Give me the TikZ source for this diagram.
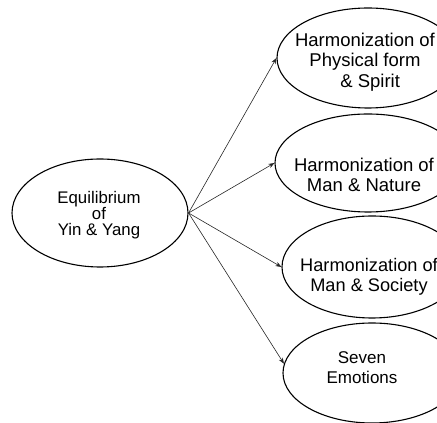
\documentclass[tikz,border=0pt]{standalone}
\usepackage{fontspec}
\setmainfont{Liberation Sans}
\usetikzlibrary{arrows.meta,shapes.geometric}
\begin{document}
\begin{tikzpicture}[x=1pt,y=1pt,
  oval/.style={ellipse, draw=black, line width=1.1pt, inner sep=0pt},
  lbl/.style={align=center, inner sep=0pt, text=black},
  bigtxt/.style={lbl, font=\fontsize{18.5pt}{20.5pt}\selectfont},
  conn/.style={draw=black!85, line width=0.6pt, -{Stealth[length=6pt,width=4.5pt]}}]
\useasboundingbox (0,0) rectangle (437,423);
\clip (0,0) rectangle (437,423);
% ellipses
\node[oval, minimum width=176pt, minimum height=108pt] (E0) at (100,210) {};
\node[oval, minimum width=182pt, minimum height=100pt] (E1) at (368,365) {};
\node[oval, minimum width=186pt, minimum height=98pt] (E2) at (368,260) {};
\node[oval, minimum width=180pt, minimum height=102pt] (E3) at (372,156) {};
\node[oval, minimum width=178pt, minimum height=100pt] (E4) at (372,50) {};
% texts
\node[lbl, font=\fontsize{16.8pt}{15.5pt}\selectfont] (T0) at (99,208) {Equilibrium\\of\\Yin \& Yang};
\node[bigtxt] (T1) at (365,361) {Harmonization of\\Physical form\\\ \ \& Spirit};
\node[bigtxt] (T2) at (364,248) {Harmonization of\\Man \& Nature};
\node[lbl, font=\fontsize{18.2pt}{20.5pt}\selectfont] (T3) at (369,146) {Harmonization of\\Man \& Society};
\node[lbl, font=\fontsize{17pt}{20pt}\selectfont] (T4) at (362,55.5) {Seven\\Emotions};
% connectors
\draw[conn] (E0.east) -- (E1.west);
\draw[conn] (E0.east) -- (E2.west);
\draw[conn] (E0.east) -- (E3.west);
\draw[conn] (E0.east) -- (E4.174);
\end{tikzpicture}
\end{document}
